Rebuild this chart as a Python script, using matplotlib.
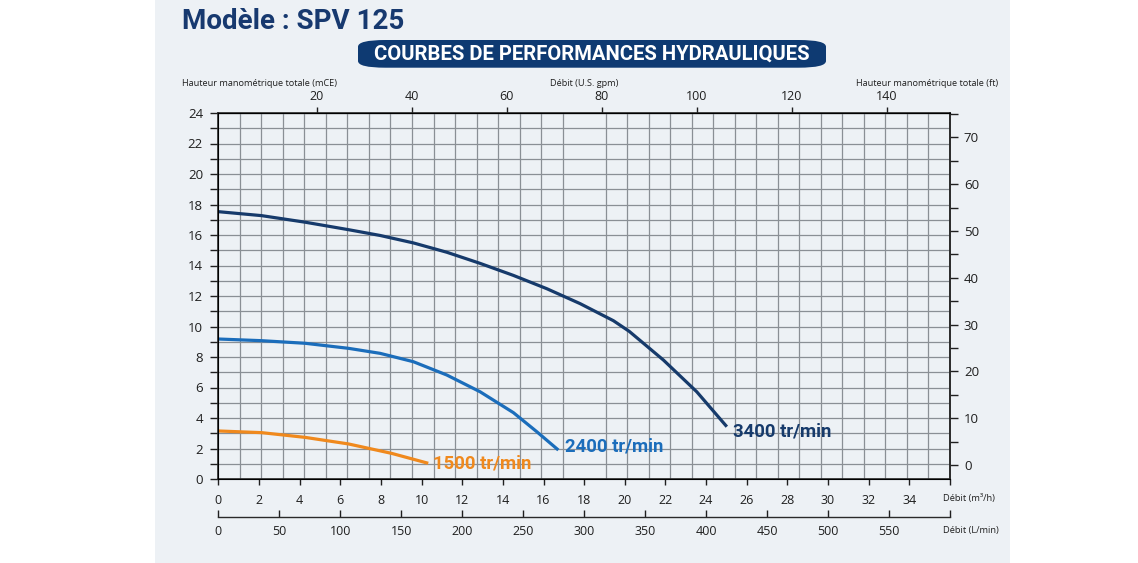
import matplotlib

matplotlib.use("Agg")
import matplotlib.pyplot as plt
import numpy as np
from matplotlib.patches import FancyBboxPatch, Rectangle
from matplotlib.ticker import FixedLocator, MultipleLocator

# performance curves: flow (m3/h) vs head (mCE)
flow_3400 = [0, 2.13, 4.27, 6.40, 7.96, 9.60, 11.24, 12.88, 14.52, 16.16, 17.80, 19.44,
             20.22, 21.90, 23.54, 25.02]
head_3400 = [17.53, 17.27, 16.84, 16.35, 15.97, 15.48, 14.87, 14.14, 13.35, 12.48, 11.50,
             10.38, 9.68, 7.80, 5.72, 3.43]

flow_2400 = [0, 2.13, 4.27, 6.40, 7.96, 9.60, 11.24, 12.88, 14.52, 15.67, 16.73]
head_2400 = [9.18, 9.07, 8.90, 8.57, 8.24, 7.69, 6.82, 5.72, 4.35, 3.10, 1.90]

flow_1500 = [0, 2.13, 4.27, 6.40, 8.53, 10.33]
head_1500 = [3.15, 3.04, 2.73, 2.30, 1.68, 1.03]

speed_labels = ["3400 tr/min", "2400 tr/min", "1500 tr/min"]
speed_colors = ["#163a6b", "#1b6dbb", "#f0891d"]
label_offsets = [(4.5, -3.6), (5.0, 2.4), (3.5, 0.0)]

m3h_ticks = list(range(0, 37, 2))
lpm_ticks = list(range(0, 601, 50))
gpm_ticks = list(range(20, 141, 20))
ft_ticks = list(range(0, 71, 10))

# the printed secondary scales are not exact conversions, fitted from the picture
GPM_SLOPE, GPM_OFFSET = 0.2339, 0.162
FT_YLIM = (-2.97, 75.2)

TEXT = "#1f1f1f"
NAVY = "#17396f"
PANEL = "#edf1f5"
GRID = "#8a8f95"
HEAVY = ["Roboto", "DejaVu Sans"]

plt.rcParams["font.family"] = ["Open Sans", "DejaVu Sans"]

fig = plt.figure(figsize=(11.38, 5.63), dpi=100)
fig.patches.append(Rectangle((155 / 1138, 0), 855 / 1138, 1, transform=fig.transFigure,
                             facecolor=PANEL, edgecolor="none", zorder=-10))

ax = fig.add_axes([218.3 / 1138, 1 - 479 / 563, (950 - 218.3) / 1138, (479 - 113) / 563])
ax.set_facecolor("none")
ax.set_xlim(0, 36)
ax.set_ylim(0, 24)

curves = [(flow_3400, head_3400), (flow_2400, head_2400), (flow_1500, head_1500)]
for (flow, head), label, color, offset in zip(curves, speed_labels, speed_colors, label_offsets):
    ax.plot(flow, head, color=color, lw=2.3, solid_capstyle="butt",
            solid_joinstyle="round", zorder=5)
    ax.annotate(label, (flow[-1], head[-1]), xytext=offset, textcoords="offset points",
                color=color, fontsize=13.3, fontweight="bold", family=HEAVY,
                va="center", ha="left", zorder=6)

# grid: 34 columns across the width, one row per metre
ax.xaxis.set_major_locator(FixedLocator(m3h_ticks))
ax.xaxis.set_minor_locator(FixedLocator(np.linspace(0, 36, 35)))
ax.set_xticklabels([str(t) if t < 36 else "" for t in m3h_ticks])
ax.yaxis.set_major_locator(MultipleLocator(2))
ax.yaxis.set_minor_locator(MultipleLocator(1))
ax.grid(which="minor", axis="x", color=GRID, lw=0.9)
ax.grid(which="both", axis="y", color=GRID, lw=0.9)
ax.set_axisbelow(True)

ax.tick_params(axis="x", which="major", direction="out", length=4, width=1, pad=6.5,
               labelsize=9, colors=TEXT)
ax.tick_params(axis="x", which="minor", length=0)
ax.tick_params(axis="y", which="both", direction="out", length=6, width=1, pad=5,
               labelsize=9.5, colors=TEXT)
for side in ["left", "bottom", "top", "right"]:
    ax.spines[side].set_color("#2a2a2a")
    ax.spines[side].set_linewidth(1.2)

# right axis in feet
ax_ft = ax.twinx()
ax_ft.set_ylim(*FT_YLIM)
ax_ft.yaxis.set_major_locator(FixedLocator(ft_ticks))
ax_ft.yaxis.set_minor_locator(MultipleLocator(5))
ax_ft.tick_params(axis="y", which="both", direction="out", length=6, width=1, pad=4,
                  labelsize=9.5, colors=TEXT)
ax_ft.spines["right"].set_color("#2a2a2a")
ax_ft.spines["right"].set_linewidth(1.2)

# top axis in US gpm
ax_gpm = ax.secondary_xaxis("top", functions=(lambda x: (x - GPM_OFFSET) / GPM_SLOPE,
                                             lambda g: g * GPM_SLOPE + GPM_OFFSET))
ax_gpm.set_xticks(gpm_ticks)
ax_gpm.tick_params(direction="out", length=4, width=1, pad=3, labelsize=9, colors=TEXT)

# second bottom axis in L/min
ax_lpm = ax.secondary_xaxis(-0.103, functions=(lambda x: x * 1000 / 60,
                                              lambda q: q * 60 / 1000))
ax_lpm.set_xticks(lpm_ticks)
ax_lpm.set_xticklabels([str(t) if t < 600 else "" for t in lpm_ticks])
ax_lpm.tick_params(direction="in", length=5, width=1, pad=6, labelsize=9, colors=TEXT)
ax_lpm.spines["bottom"].set_color("#2a2a2a")
ax_lpm.spines["bottom"].set_linewidth(1.0)

# axis titles
fig.text(181.7 / 1138, 1 - 84 / 563, "Hauteur manométrique totale (mCE)", fontsize=6.6,
         color=TEXT, ha="left", va="center")
fig.text(584 / 1138, 1 - 84 / 563, "Débit (U.S. gpm)", fontsize=6.6, color=TEXT,
         ha="center", va="center")
fig.text(998 / 1138, 1 - 84 / 563, "Hauteur manométrique totale (ft)", fontsize=6.6,
         color=TEXT, ha="right", va="center")
fig.text(942.7 / 1138, 1 - 498 / 563, "Débit (m³/h)", fontsize=6.7, color=TEXT,
         ha="left", va="center")
fig.text(942.7 / 1138, 1 - 530 / 563, "Débit (L/min)", fontsize=6.7, color=TEXT,
         ha="left", va="center")

# heading and banner
fig.text(181.7 / 1138, 1 - 29.3 / 563, "Modèle : SPV 125", fontsize=20, fontweight="bold",
         family=HEAVY, color=NAVY, ha="left", va="baseline")
fig.patches.append(FancyBboxPatch((358 / 1138, 1 - 67.7 / 563), (826 - 358) / 1138,
                                  27.7 / 563, boxstyle="round,pad=0,rounding_size=0.024",
                                  transform=fig.transFigure, facecolor="#0e3a72",
                                  edgecolor="none", mutation_aspect=563 / 1138))
fig.text(592 / 1138, 1 - 54 / 563, "COURBES DE PERFORMANCES HYDRAULIQUES", fontsize=14.6,
         fontweight="bold", family=HEAVY, color="white", ha="center", va="center")

fig.savefig("out.png", dpi=100, facecolor="white")
